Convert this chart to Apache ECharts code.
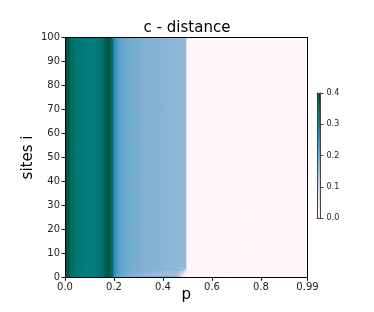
<!DOCTYPE html>
<html><head><meta charset="utf-8">
<script src="https://cdn.jsdelivr.net/npm/echarts@6/dist/echarts.min.js"></script>
<style>html,body{margin:0;padding:0;background:#fff}#c{width:374px;height:312px}</style>
</head><body><div id="c"></div>
<script>
// p range covered by the image and number of p columns / site rows
var pMax = 0.99;
var nCols = 100;
var nRows = 100;

// distance value along p (same for all sites above the bottom rows)
var colProfile = [
  0.39,0.37,0.35,0.335,0.325,0.32,0.318,0.315,0.313,0.312,
  0.312,0.313,0.315,0.318,0.325,0.34,0.365,0.375,0.37,0.335,
  0.255,0.23,0.215,0.205,0.2,0.195,0.192,0.19,0.188,0.186,
  0.184,0.182,0.18,0.179,0.178,0.177,0.176,0.175,0.174,0.173,
  0.172,0.171,0.17,0.169,0.168,0.167,0.166,0.165,0.165,0.164,
  0.01,0,0,0,0,0,0,0,0,0,
  0,0,0,0,0,0,0,0,0,0,
  0,0,0,0,0,0,0,0,0,0,
  0,0,0,0,0,0,0,0,0,0,
  0,0,0,0,0,0,0,0,0,0
];
// bottom rows (sites 0..3), columns 20..49
var row0 = [0.25,0.22,0.205,0.2,0.198,0.196,0.195,0.194,0.193,0.192,
            0.191,0.19,0.19,0.19,0.19,0.19,0.19,0.19,0.19,0.19,
            0.19,0.19,0.19,0.185,0.18,0.17,0.15,0.1,0.03,0.01];
var row1 = [0.25,0.22,0.205,0.2,0.195,0.19,0.185,0.18,0.178,0.176,
            0.172,0.168,0.165,0.162,0.16,0.158,0.155,0.153,0.152,0.15,
            0.15,0.15,0.15,0.15,0.15,0.15,0.14,0.11,0.06,0.02];
var row2 = [0.255,0.23,0.215,0.205,0.2,0.195,0.19,0.188,0.186,0.184,
            0.18,0.178,0.176,0.174,0.172,0.17,0.168,0.166,0.164,0.162,
            0.16,0.158,0.156,0.155,0.154,0.153,0.15,0.14,0.11,0.06];
var row3 = [0.255,0.23,0.215,0.205,0.2,0.195,0.192,0.19,0.188,0.186,
            0.184,0.182,0.18,0.179,0.178,0.177,0.176,0.175,0.174,0.173,
            0.172,0.171,0.17,0.169,0.168,0.167,0.165,0.16,0.15,0.12];
var bottomRows = [row0, row1, row2, row3];

var xTicks = [0, 0.2, 0.4, 0.6, 0.8, 0.99];
var yTicks = [0, 10, 20, 30, 40, 50, 60, 70, 80, 90, 100];
var cbTicks = [0.0, 0.1, 0.2, 0.3, 0.4];
var palette = ['#fff7fb','#ece2f0','#d0d1e6','#a6bddb','#67a9cf','#3690c0','#02818a','#016c59','#014636'];

var data = [];
for (var i = 0; i < nRows; i++) {
  for (var c = 0; c < nCols; c++) {
    var v = colProfile[c];
    if (i < bottomRows.length && c >= 20 && c < 50) v = bottomRows[i][c - 20];
    data.push([c * pMax / nCols, (c + 1) * pMax / nCols, i * 100 / nRows, (i + 1) * 100 / nRows, v]);
  }
}

function renderCell(params, api) {
  var a = api.coord([api.value(0), api.value(3)]);
  var b = api.coord([api.value(1), api.value(2)]);
  return {
    type: 'rect',
    shape: {x: a[0], y: a[1], width: b[0] - a[0] + 0.8, height: b[1] - a[1] + 0.8},
    style: {fill: api.visual('color')},
    silent: true
  };
}

var font = 'DejaVu Sans';
var chart = echarts.init(document.getElementById('c'), null, {renderer: 'canvas'});
var G = {left: 65, right: 66.5, top: 37.7, bottom: 34.7};
var frame = {show: true, onZero: false, lineStyle: {color: '#000', width: 1}};
var cbFrame = {show: true, onZero: false, lineStyle: {color: '#444', width: 1}};
chart.setOption({
  animation: false,
  title: {text: 'c - distance', left: 'center', top: 21, padding: 0,
          textStyle: {fontFamily: font, fontSize: 15, fontWeight: 'normal', color: '#000'}},
  grid: [
    {left: G.left, right: G.right, top: G.top, bottom: G.bottom},
    {left: 317, width: 3.5, top: 93, height: 125}
  ],
  visualMap: {
    type: 'continuous', min: 0, max: 0.4, seriesIndex: 0, dimension: 4, calculable: false,
    orient: 'vertical', left: 317, top: 93, itemWidth: 3.5, itemHeight: 125,
    padding: 0, text: null, showLabel: false, hoverLink: false,
    inRange: {color: palette}
  },
  xAxis: [
    {type: 'value', gridIndex: 0, min: 0, max: pMax, interval: 0.2, position: 'bottom', z: 10,
     axisLine: frame,
     axisTick: {show: true, length: 3.5, lineStyle: {color: '#000'}},
     splitLine: {show: false},
     axisLabel: {fontFamily: font, fontSize: 10, color: '#222', margin: 5,
       formatter: function (v) { return v === pMax ? '0.99' : v.toFixed(1); }},
     name: 'p', nameLocation: 'middle', nameGap: 10, nameMoveOverlap: false,
     nameTextStyle: {fontFamily: font, fontSize: 15, color: '#000', verticalAlign: 'top'}},
    {type: 'value', gridIndex: 0, min: 0, max: pMax, position: 'top', z: 10,
     axisLine: frame, axisTick: {show: false}, axisLabel: {show: false}, splitLine: {show: false}},
    {type: 'value', gridIndex: 1, min: 0, max: 1, z: 10,
     axisLine: cbFrame, axisTick: {show: false}, axisLabel: {show: false}, splitLine: {show: false}},
    {type: 'value', gridIndex: 1, min: 0, max: 1, position: 'top', z: 10,
     axisLine: cbFrame, axisTick: {show: false}, axisLabel: {show: false}, splitLine: {show: false}}
  ],
  yAxis: [
    {type: 'value', gridIndex: 0, min: 0, max: 100, interval: 10, position: 'left', z: 10,
     axisLine: frame,
     axisTick: {show: true, length: 3.5, lineStyle: {color: '#000'}},
     splitLine: {show: false},
     axisLabel: {fontFamily: font, fontSize: 10, color: '#222', margin: 5},
     name: 'sites i', nameLocation: 'middle', nameGap: 29, nameRotate: 90, nameMoveOverlap: false,
     nameTextStyle: {fontFamily: font, fontSize: 15, color: '#000'}},
    {type: 'value', gridIndex: 0, min: 0, max: 100, position: 'right', z: 10,
     axisLine: frame, axisTick: {show: false}, axisLabel: {show: false}, splitLine: {show: false}},
    {type: 'value', gridIndex: 1, min: 0, max: 0.4, interval: 0.1, position: 'right', z: 10,
     axisLine: cbFrame,
     axisTick: {show: true, length: 3, lineStyle: {color: '#444'}},
     splitLine: {show: false},
     axisLabel: {fontFamily: font, fontSize: 8, color: '#222', margin: 6,
       formatter: function (v) { return v.toFixed(1); }}},
    {type: 'value', gridIndex: 1, min: 0, max: 0.4, position: 'left', z: 10,
     axisLine: cbFrame, axisTick: {show: false}, axisLabel: {show: false}, splitLine: {show: false}}
  ],
  series: [{
    type: 'custom', xAxisIndex: 0, yAxisIndex: 0, data: data,
    encode: {x: [0, 1], y: [2, 3]},
    renderItem: renderCell, clip: true, progressive: 0, z: 1
  }]
});
</script></body></html>
